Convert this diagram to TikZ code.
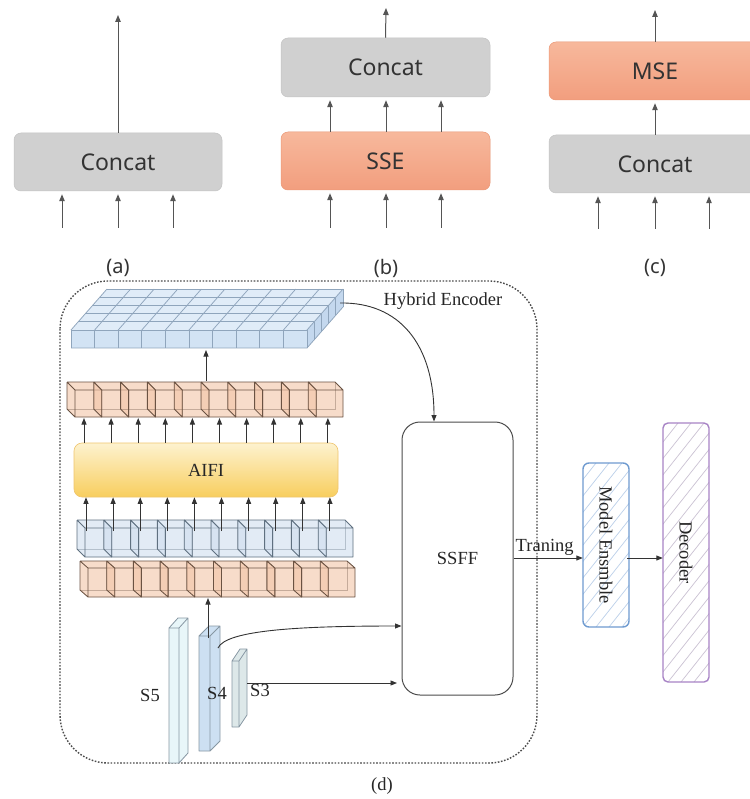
\documentclass[tikz,border=0pt]{standalone}
\usepackage{fontspec}
\setmainfont{Liberation Serif}
\newfontfamily\uisans{Noto Sans}
\usetikzlibrary{arrows.meta}

\definecolor{boxgray}{HTML}{D0D0D0}
\definecolor{boxgrayedge}{HTML}{C4C4C4}
\definecolor{salmonT}{HTML}{F7B89C}
\definecolor{salmonB}{HTML}{F29E7E}
\definecolor{salmonEdge}{HTML}{EE9A78}
\definecolor{txtgray}{HTML}{333333}
\definecolor{arrgray}{HTML}{555555}
\definecolor{aifiT}{HTML}{FDF2CF}
\definecolor{aifiB}{HTML}{F8CE5E}
\definecolor{aifiEdge}{HTML}{EFC56E}
\definecolor{orF}{HTML}{F3C5A8}
\definecolor{orE}{HTML}{6A5242}
\definecolor{blF}{HTML}{D0DFEF}
\definecolor{blE}{HTML}{5F7080}
\definecolor{slabTop}{HTML}{E0ECF8}
\definecolor{slabFront}{HTML}{D2E3F4}
\definecolor{slabSide}{HTML}{C4D8EE}
\definecolor{slabLine}{HTML}{8FA5BC}
\definecolor{sFive}{HTML}{E8F6F9}
\definecolor{sFour}{HTML}{CDE0F2}
\definecolor{sThree}{HTML}{DDE8E9}
\definecolor{sEdge}{HTML}{8797A3}
\definecolor{ensEdge}{HTML}{6F9BD0}
\definecolor{ensHatch}{HTML}{BCD0EA}
\definecolor{decEdge}{HTML}{A884C6}
\definecolor{decHatch}{HTML}{CBC2D3}

% a row of ten see-through cubes: x0, ytop, width, height, dx, dy, fill, edge
\newcommand{\cuberow}[8]{%
  \foreach \i in {0,...,9}{%
    \pgfmathsetmacro{\xa}{#1+\i*#3}%
    \pgfmathsetmacro{\xb}{\xa+#3}%
    \pgfmathsetmacro{\ya}{#2}%
    \pgfmathsetmacro{\yb}{#2+#4}%
    \pgfmathsetmacro{\xc}{\xa+(#5)}%
    \pgfmathsetmacro{\xd}{\xb+(#5)}%
    \pgfmathsetmacro{\yc}{\ya+(#6)}%
    \pgfmathsetmacro{\yd}{\yb+(#6)}%
    \fill[#7, fill opacity=0.6] (\xc,\yc) -- (\xd,\yc) -- (\xb,\ya) -- (\xb,\yb) -- (\xa,\yb) -- (\xc,\yd) -- cycle;
    \draw[#8, draw opacity=0.35, line width=0.6pt] (\xd,\yc) -- (\xd,\yd) -- (\xc,\yd);
    \draw[#8, line width=0.85pt, line join=round] (\xa,\ya) rectangle (\xb,\yb)
      (\xc,\yc) -- (\xd,\yc) -- (\xb,\ya) (\xc,\yc) -- (\xa,\ya)
      (\xc,\yc) -- (\xc,\yd) -- (\xa,\yb);
  }}

% an upright bar seen from the front-left: x1, y1, x2, y2, dx, dy, fill
\newcommand{\sbar}[7]{%
  \filldraw[fill=#7, draw=sEdge, line width=0.8pt, line join=round]
    (#1,#2) rectangle (#3,#4)
    (#3,#2) -- ++(#5,#6) -- ++(0,{#4-#2}) -- (#3,#4) -- cycle
    (#1,#2) -- ++(#5,#6) -- ++({#3-#1},0) -- (#3,#2) -- cycle;
}

\tikzset{
  graybox/.style={rounded corners=7pt, fill=boxgray, draw=boxgrayedge, line width=0.5pt,
    minimum width=208pt, minimum height=58pt, inner sep=0pt,
    font=\uisans\fontsize{23}{26}\selectfont, text=txtgray},
  salmonbox/.style={graybox, top color=salmonT, bottom color=salmonB, draw=salmonEdge},
  arr/.style={draw=arrgray, line width=1pt, -{Triangle[length=7pt,width=5.5pt]}},
  arrk/.style={draw=black!80, line width=0.9pt, -{Triangle[length=6.5pt,width=5pt]}},
  caption/.style={font=\uisans\fontsize{20}{24}\selectfont, text=txtgray},
  serif/.style={font=\fontsize{18.5}{22}\selectfont, text=black!85},
  frame/.style={draw=black!70, line width=1.4pt, dash pattern=on 1.6pt off 1.6pt, rounded corners=48pt},
  slabline/.style={draw=slabLine, line width=0.75pt},
}

\begin{document}
\begin{tikzpicture}[x=1pt, y=-1pt]
\useasboundingbox (0,0) rectangle (749,799);
\fill[white] (0,0) rectangle (749,799);

% ---------- (a) ----------
\node[graybox] (concatA) at (118,162) {Concat};
\coordinate (outA) at (118,15);
\draw[arr] (concatA.north) -- (outA);
\foreach \x [count=\n] in {62,118,173}{
  \coordinate (inA\n) at (\x,228);
  \draw[arr, shorten >=3pt] (inA\n) -- (inA\n |- concatA.south);
}
\node[caption] (capA) at (118,268) {(a)};

% ---------- (b) ----------
\node[graybox, minimum width=209pt, minimum height=59pt] (concatB) at (385.5,67.5) {Concat};
\node[salmonbox, minimum width=209pt] (sseB) at (385.5,161) {SSE};
\coordinate (outB) at (386,8);
\draw[arr] (concatB.north) -- (outB);
\foreach \x [count=\n] in {330,386,441}{
  \coordinate (inB\n) at (\x,228);
  \draw[arr, shorten >=3pt] (inB\n) -- (inB\n |- sseB.south);
  \coordinate (midB\n) at (\x,0);
  \draw[arr, shorten >=3pt] (midB\n |- sseB.north) -- (midB\n |- concatB.south);
}
\node[caption] (capB) at (386,268) {(b)};

% ---------- (c) ----------
\node[salmonbox, minimum width=212pt] (mseC) at (655,71) {MSE};
\node[graybox, minimum width=212pt] (concatC) at (655,164) {Concat};
\coordinate (outC) at (655,10);
\draw[arr] (mseC.north) -- (outC);
\draw[arr, shorten >=3pt] (concatC.north) -- (mseC.south);
\foreach \x [count=\n] in {598,655,709}{
  \coordinate (inC\n) at (\x,229);
  \draw[arr, shorten >=3pt] (inC\n) -- (inC\n |- concatC.south);
}
\node[caption] (capC) at (655,268) {(c)};

% ---------- (d) hybrid encoder ----------
\draw[frame] (60,281) rectangle (537,763);
\node[serif] (hyb) at (443,301) {Hybrid Encoder};

% top feature slab: 10 x 5 grid of cells
\fill[slabTop] (71,330) -- (307,330) -- (343,289) -- (107,289) -- cycle;
\fill[slabFront] (71,330) rectangle (307,348);
\fill[slabSide] (307,330) -- (343,289) -- (343,307) -- (307,348) -- cycle;
\foreach \j in {0,...,5}
  \draw[slabline] ({71+7.2*\j},{330-8.2*\j}) -- ({307+7.2*\j},{330-8.2*\j});
\foreach \k in {0,...,10}{
  \draw[slabline] ({71+23.6*\k},330) -- ++(36,-41);
  \draw[slabline] ({71+23.6*\k},330) -- ++(0,18);
}
\foreach \j in {1,...,5}
  \draw[slabline] ({307+7.2*\j},{330-8.2*\j}) -- ++(0,18);
\draw[slabline] (71,348) -- (307,348) -- (343,307);
\coordinate (slabB) at (206,350);
\coordinate (slabR) at (340,303);

% token rows and AIFI
\cuberow{75}{390}{26.8}{27}{-8}{-8}{orF}{orE}
\coordinate (rowOneB) at (206,381);
\draw[arrk] (rowOneB) -- (slabB);

\node[rounded corners=8pt, top color=aifiT, bottom color=aifiB, draw=aifiEdge, line width=0.6pt,
  minimum width=264pt, minimum height=54pt, serif] (aifi) at (206,470) {AIFI};

\foreach \i in {0,...,9}{
  \coordinate (upT\i) at ({84+27.1*\i},418);
  \draw[arrk] (upT\i |- aifi.north) -- (upT\i);
}

\cuberow{85}{528}{26.8}{29}{-8}{-8}{blF}{blE}
\cuberow{88}{568}{26.7}{29}{-8}{-7}{orF}{orE}

\foreach \i in {0,...,9}{
  \coordinate (upB\i) at ({86+27.1*\i},531);
  \draw[arrk] (upB\i) -- (upB\i |- aifi.south);
}

% backbone stages
\sbar{169}{628}{179}{763}{9}{-10}{sFive}
\sbar{199}{636}{210}{751}{10}{-10}{sFour}
\sbar{232}{661}{239}{727}{8}{-12}{sThree}
\node[serif] (sfive) at (150,695) {S5};
\node[serif] (sfour) at (217,693) {S4};
\node[serif] (sthree) at (260,690) {S3};
\coordinate (sFourTop) at (208,638);
\coordinate (rowTwoB) at (208,598);
\draw[arrk] (sFourTop) -- (rowTwoB);
\coordinate (sFourR) at (218,648);
\coordinate (sThreeR) at (247,683);

% SSFF fusion
\node[draw=black!70, line width=1pt, rounded corners=18pt, fill=white,
  minimum width=111pt, minimum height=273pt, serif] (ssff) at (457.5,558.5) {SSFF};
\draw[arrk] (slabR) .. controls (400,302) and (434,345) .. (ssff.north -| 434,0);
\draw[arrk] (sFourR) .. controls (226,630) and (300,626) .. (ssff.west |- 0,626);
\coordinate (sThreeEnd) at (397,683);
\draw[arrk] (sThreeR) -- (sThreeEnd);

% model ensemble and decoder
\coordinate (lvl) at (0,558);
\node[minimum width=46pt, minimum height=164pt] (ens) at (606,545) {};
\begin{scope}
  \clip[rounded corners=6pt] (583,463) rectangle (629,627);
  \fill[white] (583,463) rectangle (629,627);
  \foreach \k in {0,...,18}
    \draw[ensHatch, line width=0.7pt] ({440+13*\k},627) -- ++(130,-164);
\end{scope}
\draw[ensEdge, line width=1.4pt, rounded corners=6pt] (583,463) rectangle (629,627);
\node[serif, rotate=-90] (ensTxt) at (ens.center) {Model Ensmble};

\node[minimum width=46pt, minimum height=259pt] (dec) at (686,552.5) {};
\begin{scope}
  \clip[rounded corners=5pt] (663,423) rectangle (709,682);
  \foreach \k in {0,...,26}
    \draw[decHatch, line width=0.7pt] ({460+13*\k},682) -- ++(205,-259);
\end{scope}
\draw[decEdge, line width=1.4pt, rounded corners=5pt] (663,423) rectangle (709,682);
\node[serif, rotate=-90] (decTxt) at (dec.center) {Decoder};

\draw[arrk] (ssff.east |- lvl) -- node[above, serif, pos=0.45, yshift=-1pt] (tr) {Traning} (ens.west |- lvl);
\draw[arrk] ([xshift=-2pt]ens.east |- lvl) -- (dec.west |- lvl);

\node[serif] (capD) at (382,786) {(d)};
\end{tikzpicture}
\end{document}
